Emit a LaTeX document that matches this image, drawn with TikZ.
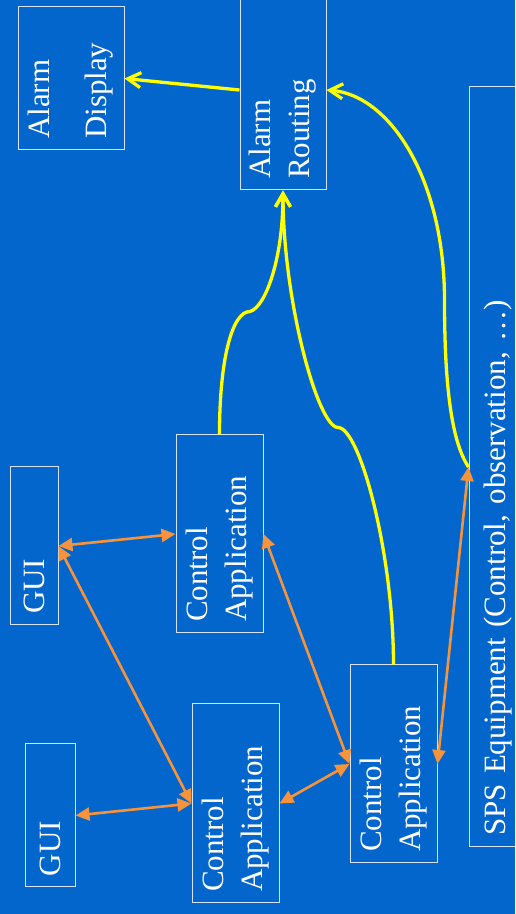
\documentclass[tikz,border=0pt]{standalone}
\usepackage{fontspec}
\setmainfont{Liberation Serif}
\usetikzlibrary{arrows.meta}
\definecolor{slide}{RGB}{3,102,204}
\definecolor{edge}{RGB}{215,228,245}
\definecolor{alarm}{RGB}{255,255,0}
\definecolor{ctrl}{RGB}{247,147,59}

\begin{document}
\begin{tikzpicture}[x=1pt,y=1pt,
    %
    box/.style={rectangle, draw=edge, line width=1pt, rotate=90, align=left,
    inner xsep=11pt, inner ysep=0pt, text=white},
    alarmflow/.style={draw=alarm, line width=3.3pt,
    -{Straight Barb[length=13pt,width=15pt]}},
    ctrlflow/.style={draw=ctrl, line width=2.6pt,
    {Triangle[length=14pt,width=13pt]}-{Triangle[length=14pt,width=13pt]}}]
    \tikzstyle{every node}=[font=\fontsize{31}{39}\selectfont]
    \fill[slide] (0,0) rectangle (515,914);
    \useasboundingbox (0,0) rectangle (515,914);
    % alarm side
    \node[box, text width=121pt, minimum height=106pt] (disp) at (71,835.5) {Alarm\\[18pt]Display};
    \node[box, text width=178pt, minimum height=86pt] (rout) at (283,824) {Alarm\\Routing};
    % control side
    \node[box, text width=136pt, minimum height=48pt] (gui1) at (34,368) {GUI};
    \node[box, text width=121pt, minimum height=50pt] (gui2) at (50,98.5) {GUI};
    \node[box, text width=176pt, minimum height=87pt] (ca1) at (219.5,380) {Control\\Application};
    \node[box, text width=177pt, minimum height=87pt] (ca2) at (235.5,110.5) {Control\\Application};
    \node[box, text width=176pt, minimum height=87pt] (ca3) at (393.5,150) {Control\\Application};
    \node[box, text width=738pt, minimum height=59pt] (sps) at (498.5,447) {SPS Equipment (Control, observation, \dots)};
    % alarms
    \draw[alarmflow] (rout.north) -- (disp.south);
    \draw[alarmflow] (ca1.east) .. controls +(0,75) and +(-18,0) .. ++(30.5,123)
        .. controls +(15,4) and +(0,-70) .. (rout.west);
    \draw[alarmflow] (ca3.east) .. controls +(0,110) and +(22,0) .. ++(-55.5,237)
        .. controls +(-20,0) and +(0,-110) .. (rout.west);
    \draw[alarmflow] (sps.north) .. controls +(-18,27) and +(0,-80) .. ++(-24,167)
        .. controls +(0,120) and +(64,-5) .. (rout.south);
    % control links
    \draw[ctrlflow] (gui1.south) -- (ca1.north);
    \draw[ctrlflow] (gui1.south) -- (ca2.north);
    \draw[ctrlflow] (gui2.south) -- (ca2.north);
    \draw[ctrlflow] (ca1.south) -- (ca3.north);
    \draw[ctrlflow] (ca2.south) -- (ca3.north);
    \draw[ctrlflow] (ca3.south) -- (sps.north);
\end{tikzpicture}
\end{document}
